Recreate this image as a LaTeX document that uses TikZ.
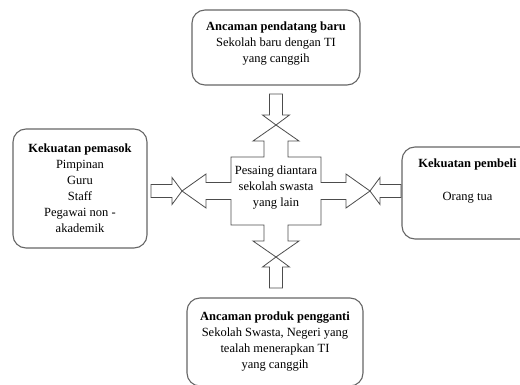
\documentclass[tikz,border=0pt]{standalone}
\usepackage{fontspec}
\setmainfont{Liberation Serif}
\tikzset{
kotak/.style={draw=black!60, line width=1.1pt, rounded corners=13pt, align=center, inner sep=2pt},
teks/.style={font=\fontsize{12.5}{16}\selectfont},
hub/.pic={
  \draw[draw=black!70, line width=0.8pt] (0,-66) -- (23,-50) -- (12,-50) -- (12,-34) -- (45,-34) -- (45,-8.5) -- (70,-8.5) -- (70,-17) -- (94,0) -- (70,17) -- (70,8.5) -- (45,8.5) -- (45,34) -- (12,34) -- (12,50) -- (23,50) -- (0,66) -- (-23,50) -- (-12,50) -- (-12,34) -- (-45,34) -- (-45,8.5) -- (-70,8.5) -- (-70,17) -- (-94,0) -- (-70,-17) -- (-70,-8.5) -- (-45,-8.5) -- (-45,-34) -- (-12,-34) -- (-12,-50) -- (-23,-50) -- cycle;
  \coordinate (-n) at (0,-66);
  \coordinate (-s) at (0,66);
  \coordinate (-w) at (-94,0);
  \coordinate (-e) at (94,0);
  },
masuk/.pic={
  \draw[draw=black!70, line width=0.8pt] (0,0) -- (-10,-13.5) -- (-10,-6.5) -- (-31,-6.5) -- (-31,6.5) -- (-10,6.5) -- (-10,13.5) -- cycle;
  }
}
\begin{document}
\begin{tikzpicture}[x=1pt,y=-1pt]
\useasboundingbox (0,0) rectangle (520,385);
\clip (0,0) rectangle (520,385);

\node[kotak, teks, minimum width=168pt, minimum height=75pt, text depth=11pt] (baru) at (276,47.5) {\textbf{Ancaman pendatang baru}\\Sekolah baru dengan TI\\yang canggih};
\node[kotak, teks, minimum width=134pt, minimum height=119pt] (pemasok) at (80,188.5) {\textbf{Kekuatan pemasok}\\Pimpinan\\Guru\\Staff\\Pegawai non -\\akademik};
\node[kotak, teks, minimum width=131pt, minimum height=92pt, text depth=26pt] (pembeli) at (467.5,193) {\textbf{Kekuatan pembeli}\\[17pt]Orang tua};
\node[kotak, teks, minimum width=176pt, minimum height=88pt] (pengganti) at (275,342) {\textbf{Ancaman produk pengganti}\\Sekolah Swasta, Negeri yang\\tealah menerapkan TI\\yang canggih};

\pic (hub) at (276,191) {hub};
\node[teks, align=center] (pesaing) at (276,188) {Pesaing diantara\\sekolah swasta\\yang lain};

\pic[rotate=-90] at (hub-n) {masuk};
\pic[rotate=90] at (hub-s) {masuk};
\pic at (hub-w) {masuk};
\pic[rotate=180] at (hub-e) {masuk};
\end{tikzpicture}
\end{document}
